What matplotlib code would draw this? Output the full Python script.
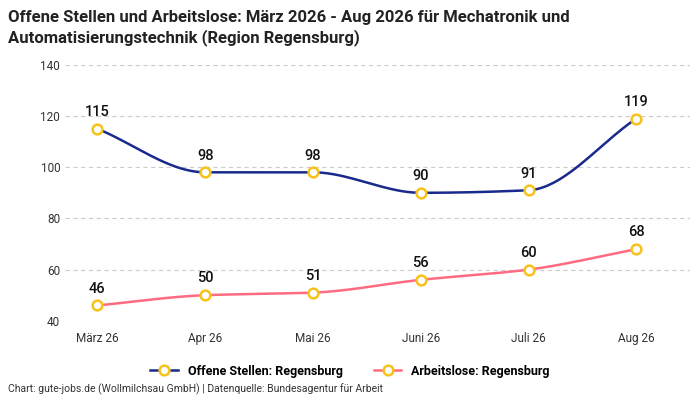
import numpy as np
import matplotlib
matplotlib.use("Agg")
import matplotlib.pyplot as plt
from matplotlib.lines import Line2D

months = ["März 26", "Apr 26", "Mai 26", "Juni 26", "Juli 26", "Aug 26"]
offene = [115, 98, 98, 90, 91, 119]
arbeitslose = [46, 50, 51, 56, 60, 68]

def monotone(x, y, n=40):
    x = np.asarray(x, float); y = np.asarray(y, float)
    h = np.diff(x); d = np.diff(y) / h
    m = np.zeros_like(y)
    m[0], m[-1] = d[0], d[-1]
    for i in range(1, len(y) - 1):
        if d[i-1] * d[i] <= 0:
            m[i] = 0
        else:
            w1 = 2*h[i] + h[i-1]; w2 = h[i] + 2*h[i-1]
            m[i] = (w1 + w2) / (w1/d[i-1] + w2/d[i])
    xs, ys = [], []
    for i in range(len(x) - 1):
        t = np.linspace(0, 1, n)
        h00 = 2*t**3 - 3*t**2 + 1; h10 = t**3 - 2*t**2 + t
        h01 = -2*t**3 + 3*t**2; h11 = t**3 - t**2
        xs.append(x[i] + t*h[i])
        ys.append(h00*y[i] + h10*h[i]*m[i] + h01*y[i+1] + h11*h[i]*m[i+1])
    return np.concatenate(xs), np.concatenate(ys)

plt.rcParams['font.family'] = ['Roboto', 'DejaVu Sans']
fig = plt.figure(figsize=(7, 4), dpi=100)
ax = fig.add_axes([0.093, 0.198, 0.893, 0.64])

x = np.arange(len(months))
blue = "#1a2a8c"; pink = "#ff6b81"; mk = "#f7c21a"
for vals, col in [(offene, blue), (arbeitslose, pink)]:
    sx, sy = monotone(x, vals)
    ax.plot(sx, sy, color=col, lw=1.8, zorder=2)
    ax.plot(x, vals, 'o', ms=7, mfc='white', mec=mk, mew=1.8, zorder=3)
    for xi, v in zip(x, vals):
        ax.annotate(str(v), (xi, v), xytext=(0, 7), textcoords='offset points',
                    ha='center', va='bottom', fontsize=10.5, fontweight='medium', color='#111111')

ax.set_xlim(-0.3, 5.5)
ax.set_ylim(40, 140)
ax.set_yticks([40, 60, 80, 100, 120, 140])
ax.set_xticks(x)
ax.set_xticklabels(months)
ax.tick_params(axis='both', length=0, labelsize=8.5, colors='#333333')
ax.tick_params(axis='x', pad=8)
ax.grid(axis='y', color='#cccccc', ls=(0, (4, 3)), lw=0.8)
for s in ax.spines.values():
    s.set_visible(False)

fig.text(0.012, 0.975, "Offene Stellen und Arbeitslose: März 2026 - Aug 2026 für Mechatronik und\nAutomatisierungstechnik (Region Regensburg)",
         fontsize=12, fontweight='bold', va='top', ha='left', color='#222222', linespacing=1.3)

handles = [Line2D([0], [0], color=blue, lw=1.8, marker='o', ms=7, mfc='white', mec=mk, mew=1.8),
           Line2D([0], [0], color=pink, lw=1.8, marker='o', ms=7, mfc='white', mec=mk, mew=1.8)]
fig.legend(handles, ["Offene Stellen: Regensburg", "Arbeitslose: Regensburg"],
           loc='center', bbox_to_anchor=(0.5, 0.072), ncol=2, frameon=False,
           prop={'weight': 'bold', 'size': 9}, columnspacing=2.5, handlelength=2.2)
fig.text(0.012, 0.018, "Chart: gute-jobs.de (Wollmilchsau GmbH) | Datenquelle: Bundesagentur für Arbeit",
         fontsize=7.5, color='#333333')
fig.savefig("out.png", dpi=100)
